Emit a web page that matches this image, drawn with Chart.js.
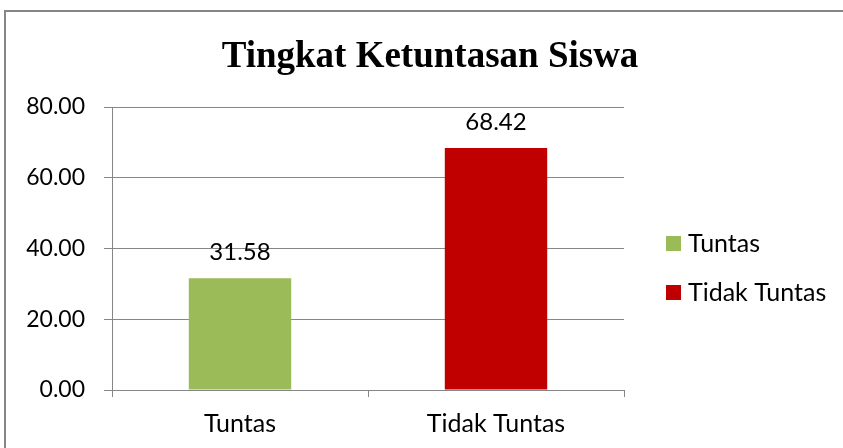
<!DOCTYPE html>
<html>
<head>
<meta charset="utf-8">
<script src="https://cdn.jsdelivr.net/npm/chart.js@4"></script>
<style>
  body { margin: 0; background: #fff; }
  canvas { display: block; }
</style>
</head>
<body>
<canvas id="chart" width="843" height="448"></canvas>
<script>
// data
var categories = ["Tuntas", "Tidak Tuntas"];
var values = [31.58, 68.42];
var barColors = ["#9BBB59", "#C00000"];
var yTicks = [0, 20, 40, 60, 80];
var chartTitle = "Tingkat Ketuntasan Siswa";

var sansFont = "Lato, 'Open Sans', sans-serif";
var gray = "#868686";

// outer frame, title, value labels and legend
var decorPlugin = {
  id: "decor",
  beforeDraw: function(chart) {
    var ctx = chart.ctx;
    ctx.save();
    ctx.fillStyle = "#fff";
    ctx.fillRect(0, 0, chart.width, chart.height);
    ctx.strokeStyle = gray;
    ctx.lineWidth = 2;
    ctx.strokeRect(5, 11, 850, 450);
    ctx.restore();
  },
  afterDraw: function(chart) {
    var ctx = chart.ctx;
    ctx.save();
    // title
    ctx.fillStyle = "#000";
    ctx.font = "bold 37px 'Liberation Serif', 'Times New Roman', serif";
    ctx.textAlign = "center";
    ctx.textBaseline = "middle";
    ctx.fillText(chartTitle, 430, 57);

    // value labels
    ctx.font = "24px " + sansFont;
    var meta = chart.getDatasetMeta(0);
    meta.data.forEach(function(bar, i) {
      ctx.fillText(values[i].toFixed(2), bar.x, bar.y - 26);
    });

    // legend
    ctx.font = "25px " + sansFont;
    ctx.textAlign = "left";
    var ly = [243, 292];
    for (var i = 0; i < categories.length; i++) {
      ctx.fillStyle = barColors[i];
      ctx.fillRect(666, ly[i] - 7, 15, 15);
      ctx.fillStyle = "#000";
      ctx.fillText(categories[i], 688, ly[i] + 1);
    }
    ctx.restore();
  }
};

var ctx = document.getElementById("chart");

var barGraph = new Chart(ctx, {
  type: "bar",
  data: {
    labels: categories,
    datasets: [
      {
        data: values,
        backgroundColor: barColors,
        barPercentage: 0.4,
        categoryPercentage: 1.0
      }
    ]
  },
  options: {
    responsive: false,
    animation: false,
    layout: {
      padding: { left: 0, right: 219, top: 107, bottom: 0 }
    },
    plugins: {
      legend: { display: false },
      title: { display: false },
      tooltip: { enabled: false }
    },
    scales: {
      x: {
        offset: true,
        grid: {
          offset: true,
          drawOnChartArea: false,
          drawTicks: true,
          tickLength: 7,
          color: gray
        },
        border: { color: gray },
        ticks: {
          color: "#000",
          font: { family: sansFont, size: 25 },
          padding: 12
        },
        afterFit: function(scale) { scale.height = 58; }
      },
      y: {
        min: 0,
        max: 80,
        afterBuildTicks: function(scale) {
          scale.ticks = yTicks.map(function(v) { return { value: v }; });
        },
        grid: {
          color: gray,
          tickLength: 8
        },
        border: { color: gray },
        ticks: {
          color: "#000",
          font: { family: sansFont, size: 23 },
          padding: 19,
          callback: function(v) { return Number(v).toFixed(2); }
        },
        afterFit: function(scale) { scale.width = 112; }
      }
    }
  },
  plugins: [decorPlugin]
});
</script>
</body>
</html>
